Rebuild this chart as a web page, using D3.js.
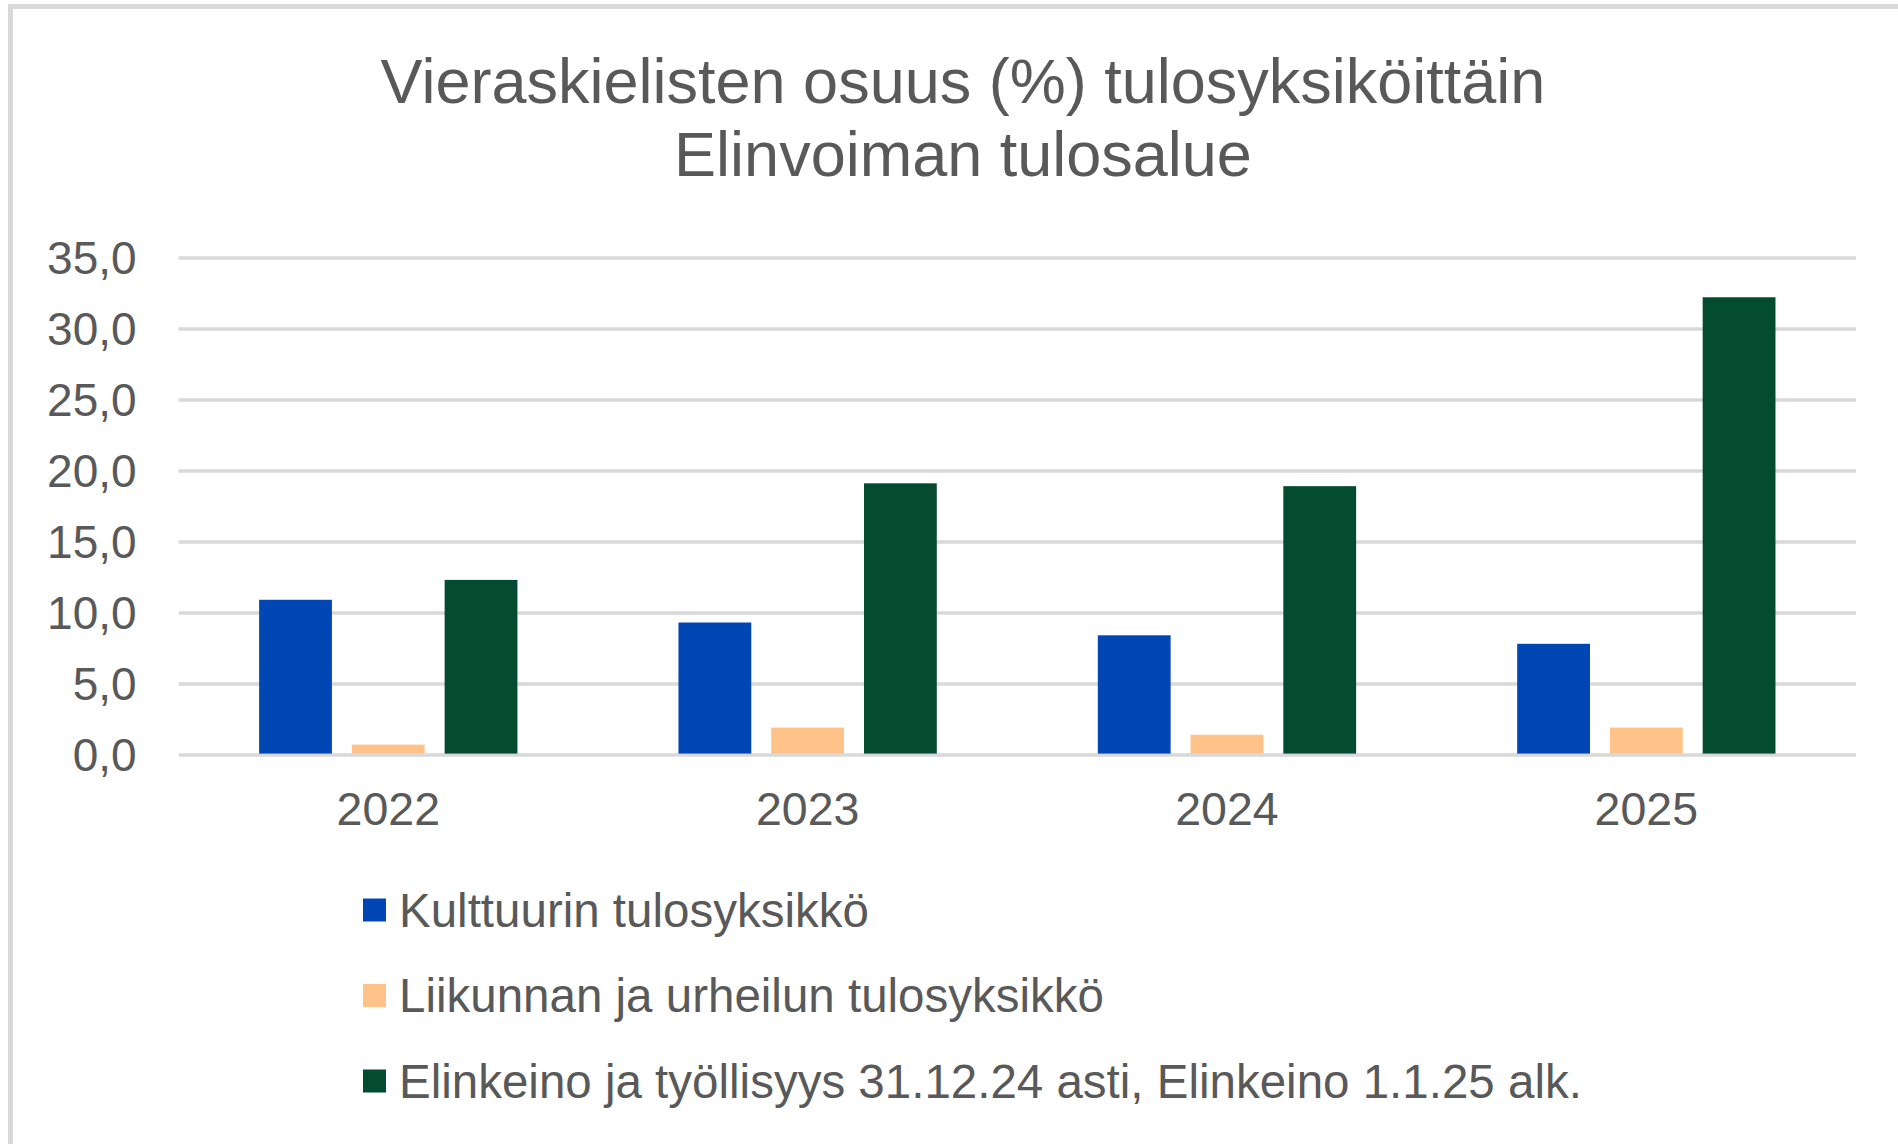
<!DOCTYPE html>
<html>
<head>
<meta charset="utf-8">
<script src="https://cdn.jsdelivr.net/npm/d3@7"></script>
<style>
  html, body { margin: 0; padding: 0; background: #ffffff; }
  svg { display: block; font-family: "Liberation Sans", Arial, sans-serif; }
</style>
</head>
<body>
<svg id="chart" width="1898" height="1144"></svg>
<script>
// ---- data ----
const years = ["2022", "2023", "2024", "2025"];
const seriesNames = [
  "Kulttuurin tulosyksikkö",
  "Liikunnan ja urheilun tulosyksikkö",
  "Elinkeino ja työllisyys 31.12.24 asti, Elinkeino 1.1.25 alk."
];
const kulttuuri = [10.9, 9.3, 8.4, 7.8];
const liikunta = [0.7, 1.9, 1.4, 1.9];
const elinkeino = [12.3, 19.1, 18.9, 32.2];
const yTicks = [0, 5, 10, 15, 20, 25, 30, 35];
const titleLines = ["Vieraskielisten osuus (%) tulosyksiköittäin", "Elinvoiman tulosalue"];
const seriesColors = ["#0047B5", "#FFC389", "#034C31"];

const seriesValues = [kulttuuri, liikunta, elinkeino];
const rows = years.map((y, i) => ({ year: y, values: seriesValues.map((s, k) => ({ key: k, value: s[i] })) }));

// ---- layout ----
const svg = d3.select("#chart");
const plot = { left: 178.6, right: 1856, top: 257.5, bottom: 754.6 };
const textColor = "#595959";
const gridColor = "#d9d9d9";

// outer border of chart area
svg.append("rect")
  .attr("x", 10.5).attr("y", 6.5)
  .attr("width", 1898).attr("height", 1144)
  .attr("fill", "none").attr("stroke", gridColor).attr("stroke-width", 5);

const x0 = d3.scaleBand().domain(years).range([plot.left, plot.right]).padding(0);
const bw = x0.bandwidth();
const x1 = d3.scaleBand().domain(d3.range(seriesNames.length))
  .range([bw * 0.192, bw * 0.808]).paddingInner(0.215).paddingOuter(0);
const y = d3.scaleLinear().domain([0, 35]).range([plot.bottom, plot.top]);

const locale = d3.formatLocale({ decimal: ",", thousands: " ", grouping: [3], currency: ["", "€"] });
const fmt = locale.format(".1f");

// gridlines + y labels via axis
const yAxis = svg.append("g")
  .attr("transform", `translate(${plot.left},0)`)
  .call(d3.axisLeft(y).tickValues(yTicks).tickFormat(fmt)
    .tickSize(-(plot.right - plot.left)).tickPadding(42));
yAxis.select(".domain").remove();
yAxis.selectAll(".tick line").attr("stroke", gridColor).attr("stroke-width", 3.5);
yAxis.selectAll(".tick text")
  .attr("fill", textColor).attr("font-size", 46).attr("dy", "0.35em")
  .style("font-family", "'Liberation Sans', Arial, sans-serif");

// bars
const groups = svg.append("g").selectAll("g").data(rows).join("g")
  .attr("transform", d => `translate(${x0(d.year)},0)`);
groups.selectAll("rect").data(d => d.values).join("rect")
  .attr("x", d => x1(d.key))
  .attr("width", x1.bandwidth())
  .attr("y", d => y(d.value))
  .attr("height", d => y(0) - y(d.value) - 1)
  .attr("fill", d => seriesColors[d.key]);

// x axis labels
const xAxis = svg.append("g")
  .attr("transform", `translate(0,${plot.bottom})`)
  .call(d3.axisBottom(x0).tickSize(0).tickPadding(37));
xAxis.select(".domain").remove();
xAxis.selectAll(".tick text")
  .attr("fill", textColor).attr("font-size", 46.5)
  .style("font-family", "'Liberation Sans', Arial, sans-serif");

// title
const title = svg.append("text")
  .attr("text-anchor", "middle")
  .attr("fill", textColor)
  .attr("font-size", 63);
title.selectAll("tspan").data(titleLines).join("tspan")
  .attr("x", 963)
  .attr("y", (d, i) => 103 + i * 73)
  .text(d => d);

// legend
const legend = svg.append("g").selectAll("g").data(seriesNames).join("g")
  .attr("transform", (d, i) => `translate(363,${910 + i * 85.5})`);
legend.append("rect")
  .attr("x", 0).attr("y", -11.5).attr("width", 23).attr("height", 23)
  .attr("fill", (d, i) => seriesColors[i]);
legend.append("text")
  .attr("x", 36).attr("y", 16.5)
  .attr("fill", textColor).attr("font-size", 47.5)
  .text(d => d);
</script>
</body>
</html>
